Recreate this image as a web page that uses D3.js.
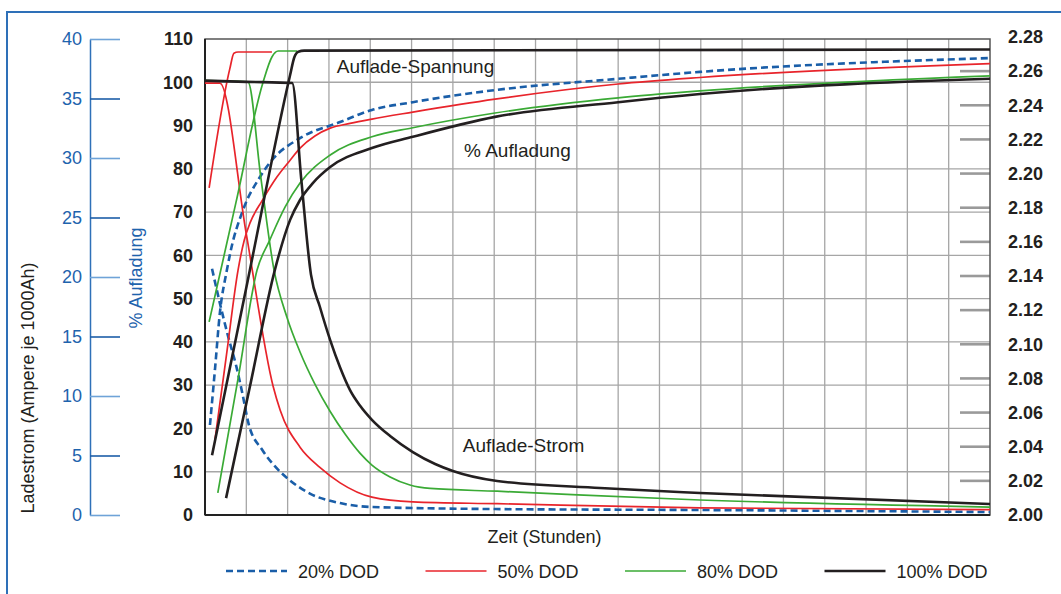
<!DOCTYPE html>
<html>
<head>
<meta charset="utf-8">
<script src="https://cdn.jsdelivr.net/npm/d3@7"></script>
<style>
  body { margin: 0; background: #fff; }
  svg text { font-family: "Liberation Sans", Arial, Helvetica, sans-serif; }
</style>
</head>
<body>
<div id="chart"></div>
<script>
// x = Zeit in Stunden (ein Gitterfeld = 1)

// Auflade-Strom (Ampere je 1000Ah)
const strom20 = [[0.17,20.7],[0.36,17.8],[0.56,15.0],[0.75,12.6],[0.90,10.3],[1.06,7.6],[1.38,5.5],[1.69,4.1],[2.06,2.9],[2.54,1.8],[3.27,1.0],[4.04,0.67],[7.02,0.5],[11.98,0.42],[19,0.25]];
const strom50 = [[0,36.3],[0.36,36.3],[1.00,23.6],[1.65,10.8],[1.82,8.8],[2.30,5.7],[2.78,4.0],[3.27,2.7],[4.04,1.5],[5.03,1.1],[7.07,0.95],[11.98,0.6],[19,0.45]];
const strom80 = [[0,36.5],[1.04,36.4],[1.35,28.4],[1.67,20.6],[1.985,16.6],[2.30,13.7],[2.66,11.0],[3.03,8.7],[3.39,6.8],[3.75,5.2],[4.04,4.2],[4.48,3.2],[4.96,2.52],[5.45,2.23],[7.07,2.0],[11.98,1.26],[19,0.67]];
const strom100 = [[0,36.5],[1.00,36.4],[2.11,36.3],[2.33,28.2],[2.565,20.2],[2.78,17.5],[3.03,14.7],[3.27,12.4],[3.51,10.5],[3.75,9.2],[4.04,8.0],[4.48,6.64],[5.03,5.29],[5.57,4.29],[6.0,3.70],[7.07,2.86],[9.56,2.27],[11.98,1.85],[19,0.92]];

// % Aufladung
const ladung20 = [[0.12,20.8],[0.24,33.5],[0.36,46.7],[0.53,56.6],[0.61,60.5],[0.92,70.5],[1.33,78.1],[1.62,82.0],[2.30,87.1],[3.27,90.8],[4.04,93.6],[5.03,95.4],[7.02,98.2],[10.0,100.8],[11.98,102.4],[19,105.6]];
const ladung50 = [[0.24,17.3],[0.52,37.0],[0.80,56.6],[0.95,63.5],[1.09,67.5],[1.38,72.6],[1.74,78.1],[2.06,82.0],[2.30,84.8],[2.66,87.6],[3.03,89.4],[3.51,90.5],[4.04,91.5],[5.03,93.1],[7.02,96.1],[10.0,99.6],[11.98,101.1],[19,104.3]];
const ladung80 = [[0.31,5.1],[0.80,31.5],[1.26,56.6],[1.57,63.6],[1.94,71.2],[2.30,76.7],[3.03,83.2],[4.04,87.4],[5.03,89.5],[7.02,92.9],[10.0,96.4],[11.98,98.0],[19,101.5]];
const ladung100 = [[0.51,3.9],[1.09,29.8],[1.69,56.6],[2.06,68.2],[2.30,72.8],[2.61,76.7],[3.03,80.4],[4.04,84.8],[5.03,87.4],[7.02,92.0],[10.0,95.4],[11.98,97.3],[19,100.8]];

// Auflade-Spannung (Volt je Zelle)
const spannung50 = [[0.10,2.1916],[0.60,2.2613],[0.70,2.2705],[0.80,2.2712],[1.62,2.2712]];
const spannung80 = [[0.10,2.1131],[0.75,2.1831],[1.40,2.2531],[1.62,2.2683],[1.77,2.2718],[2.23,2.2718]];
const spannung100 = [[0.17,2.035],[1.04,2.138],[2.06,2.2577],[2.16,2.2680],[2.26,2.2714],[2.40,2.2720],[19,2.2727]];

const seriesNames = ["20% DOD", "50% DOD", "80% DOD", "100% DOD"];
const stromTicks = [0, 5, 10, 15, 20, 25, 30, 35, 40];
const ladungTicks = [0, 10, 20, 30, 40, 50, 60, 70, 80, 90, 100, 110];
const spannungTicks = [2.00, 2.02, 2.04, 2.06, 2.08, 2.10, 2.12, 2.14, 2.16, 2.18, 2.20, 2.22, 2.24, 2.26, 2.28];
const hourGrid = d3.range(1, 19);

(function() {
    const width = 1061,
          height = 594;

    const colors = ["#1a5ea8", "#e8242b", "#3aaa35", "#231f20"];
    const widths = [2.6, 1.7, 1.7, 2.6];

    const svg = d3.select("#chart")
        .append("svg")
        .attr("width", width)
        .attr("height", height)

    // blauer Rahmen (läuft rechts/unten aus dem Bild)
    svg.append("rect")
        .attr("x", 7).attr("y", 12)
        .attr("width", 1200).attr("height", 800)
        .attr("fill", "none")
        .attr("stroke", "#2e70b8")
        .attr("stroke-width", 2)

    const x = d3.scaleLinear().domain([0, 19]).range([205, 990]);
    const yPct = d3.scaleLinear().domain([0, 110]).range([515, 39]);
    const yAmp = d3.scaleLinear().domain([0, 40]).range([515, 39]);
    const yVolt = d3.scaleLinear().domain([2.0, 2.28]).range([515, 37]);

    // Gitter
    svg.append("g").selectAll("line")
        .data(hourGrid)
        .enter().append("line")
        .attr("x1", d => x(d)).attr("x2", d => x(d))
        .attr("y1", yPct(0)).attr("y2", yPct(110))
        .attr("stroke", "#a6a6a6")
        .attr("stroke-width", 1.3)

    svg.append("g").selectAll("line")
        .data(ladungTicks.slice(1, -1))
        .enter().append("line")
        .attr("x1", x(0)).attr("x2", x(19))
        .attr("y1", d => yPct(d)).attr("y2", d => yPct(d))
        .attr("stroke", "#a6a6a6")
        .attr("stroke-width", 1.3)

    // graue Markierungen am rechten Rand
    svg.append("g").selectAll("line")
        .data(spannungTicks.slice(1, -1))
        .enter().append("line")
        .attr("x1", x(19) - 30).attr("x2", x(19))
        .attr("y1", d => yVolt(d)).attr("y2", d => yVolt(d))
        .attr("stroke", "#9a9a9a")
        .attr("stroke-width", 2.6)

    // Rahmen des Diagramms
    svg.append("rect")
        .attr("x", x(0)).attr("y", yPct(110))
        .attr("width", x(19) - x(0)).attr("height", yPct(0) - yPct(110))
        .attr("fill", "none")
        .attr("stroke", "#555")
        .attr("stroke-width", 1.5)
    svg.append("line")
        .attr("x1", x(0)).attr("x2", x(19))
        .attr("y1", yPct(0)).attr("y2", yPct(0))
        .attr("stroke", "#222").attr("stroke-width", 2)
    svg.append("line")
        .attr("x1", x(0)).attr("x2", x(0))
        .attr("y1", yPct(0)).attr("y2", yPct(110))
        .attr("stroke", "#222").attr("stroke-width", 2)

    // Achsen
    const axisPct = svg.append("g")
        .attr("transform", `translate(${x(0)},0)`)
        .call(d3.axisLeft(yPct).tickValues(ladungTicks).tickSize(0).tickPadding(12))
    axisPct.select(".domain").remove()
    axisPct.selectAll("text")
        .attr("font-size", 18).attr("font-weight", "bold").attr("fill", "#231f20")
        .attr("font-family", "Liberation Sans, Arial, sans-serif")

    const axisVolt = svg.append("g")
        .attr("transform", `translate(${x(19)},0)`)
        .call(d3.axisRight(yVolt).tickValues(spannungTicks).tickFormat(d3.format(".2f")).tickSize(0).tickPadding(18))
    axisVolt.select(".domain").remove()
    axisVolt.selectAll("text")
        .attr("font-size", 18).attr("font-weight", "bold").attr("fill", "#231f20")
        .attr("font-family", "Liberation Sans, Arial, sans-serif")

    const axisAmp = svg.append("g")
        .attr("transform", "translate(90,0)")
        .call(d3.axisLeft(yAmp).tickValues(stromTicks).tickSize(-30).tickSizeOuter(0).tickPadding(8))
    axisAmp.select(".domain").attr("stroke", "#2e70b8").attr("stroke-width", 1.5)
    axisAmp.selectAll(".tick line")
        .attr("stroke", (d, i) => i % 2 ? "#1d5ea8" : "#6fa3d8")
        .attr("stroke-width", 1.6)
    axisAmp.selectAll("text")
        .attr("font-size", 18).attr("fill", "#1e63ad")
        .attr("font-family", "Liberation Sans, Arial, sans-serif")

    // Achsentitel
    svg.append("text")
        .attr("transform", `translate(34,${yPct(0) - 127}) rotate(-90)`)
        .attr("text-anchor", "middle")
        .attr("font-size", 18).attr("fill", "#231f20")
        .text("Ladestrom (Ampere je 1000Ah)")

    svg.append("text")
        .attr("transform", `translate(142,${yPct(0) - 237}) rotate(-90)`)
        .attr("text-anchor", "middle")
        .attr("font-size", 18).attr("fill", "#1e63ad")
        .text("% Aufladung")

    svg.append("text")
        .attr("x", (x(0) + x(19)) / 2 - 53).attr("y", 543)
        .attr("text-anchor", "middle")
        .attr("font-size", 18).attr("fill", "#231f20")
        .text("Zeit (Stunden)")

    // Kurven
    const lineAmp = d3.line().x(d => x(d[0])).y(d => yAmp(d[1])).curve(d3.curveMonotoneX);
    const linePct = d3.line().x(d => x(d[0])).y(d => yPct(d[1])).curve(d3.curveMonotoneX);
    const lineVolt = d3.line().x(d => x(d[0])).y(d => yVolt(d[1])).curve(d3.curveMonotoneX);

    const curves = [
        { data: strom20, gen: lineAmp, s: 0 },
        { data: ladung20, gen: linePct, s: 0 },
        { data: strom50, gen: lineAmp, s: 1 },
        { data: ladung50, gen: linePct, s: 1 },
        { data: spannung50, gen: lineVolt, s: 1 },
        { data: strom80, gen: lineAmp, s: 2 },
        { data: ladung80, gen: linePct, s: 2 },
        { data: spannung80, gen: lineVolt, s: 2 },
        { data: strom100, gen: lineAmp, s: 3 },
        { data: ladung100, gen: linePct, s: 3 },
        { data: spannung100, gen: lineVolt, s: 3 }
    ];

    svg.append("g").selectAll("path")
        .data(curves)
        .enter().append("path")
        .attr("d", d => d.gen(d.data))
        .attr("fill", "none")
        .attr("stroke", d => colors[d.s])
        .attr("stroke-width", d => widths[d.s])
        .attr("stroke-dasharray", d => d.s === 0 ? "7,4" : null)
        .attr("stroke-linejoin", "round")

    // Beschriftungen im Diagramm
    const notes = [
        { text: "Auflade-Spannung", h: 3.19, v: 102.1 },
        { text: "% Aufladung", h: 6.27, v: 82.7 },
        { text: "Auflade-Strom", h: 6.24, v: 14.6 }
    ];
    svg.append("g").selectAll("text")
        .data(notes)
        .enter().append("text")
        .attr("x", d => x(d.h)).attr("y", d => yPct(d.v))
        .attr("font-size", 19).attr("fill", "#231f20")
        .text(d => d.text)

    // Legende
    const legend = svg.append("g").selectAll("g")
        .data(seriesNames)
        .enter().append("g")
        .attr("transform", (d, i) => `translate(${226 + i * 199.5},571)`)

    legend.append("line")
        .attr("x1", 0).attr("x2", 61)
        .attr("stroke", (d, i) => colors[i])
        .attr("stroke-width", (d, i) => widths[i])
        .attr("stroke-dasharray", (d, i) => i === 0 ? "7,4" : null)

    legend.append("text")
        .attr("x", 72).attr("y", 6.5)
        .attr("font-size", 18).attr("fill", "#231f20")
        .text(d => d)
})();
</script>
</body>
</html>
